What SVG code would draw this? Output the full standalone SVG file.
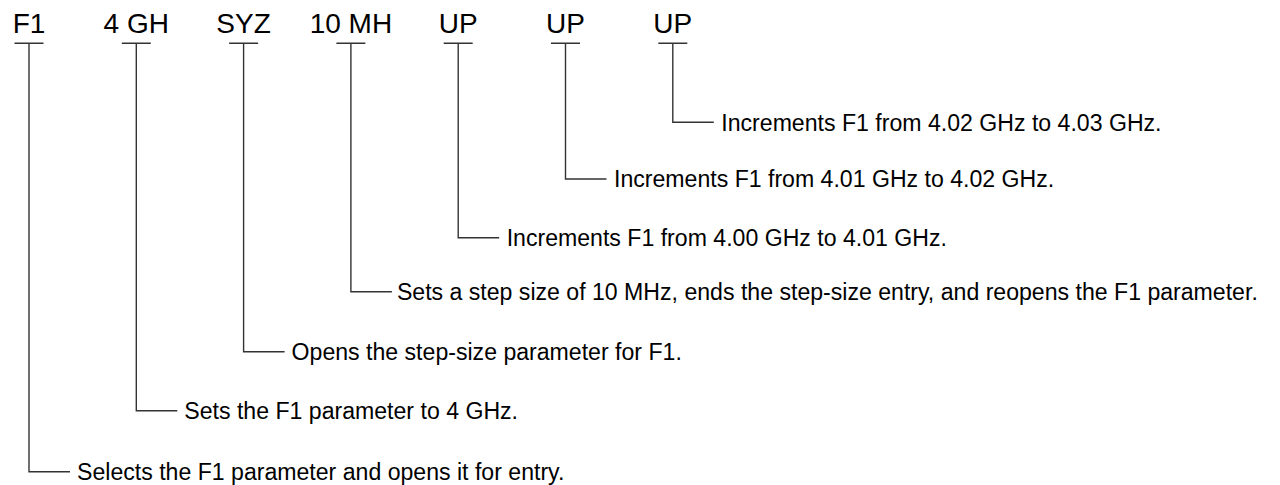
<svg xmlns="http://www.w3.org/2000/svg" width="1280" height="485" viewBox="0 0 1280 485">
<style>
.key{font-family:"Liberation Sans",Arial,sans-serif;font-size:28px;fill:#000;text-anchor:middle}
.desc{font-family:"Liberation Sans",Arial,sans-serif;font-size:23.1px;fill:#000}
.ln{fill:none;stroke:#333;stroke-width:1.4}
</style>
<rect width="1280" height="485" fill="#fff"/>
<g id="keys">
<g id="k1"><text class="key" x="29" y="33">F1</text></g>
<g id="k2"><text class="key" x="136.3" y="33">4 GH</text></g>
<g id="k3"><text class="key" x="243.6" y="33">SYZ</text></g>
<g id="k4"><text class="key" x="350.9" y="33">10 MH</text></g>
<g id="k5"><text class="key" x="458.2" y="33">UP</text></g>
<g id="k6"><text class="key" x="565.5" y="33">UP</text></g>
<g id="k7"><text class="key" x="672.8" y="33">UP</text></g>
</g>
<g id="connectors">
<path class="ln" d="M14.5 43.3H43.5M29 43.3V471.7H70"/>
<path class="ln" d="M121.8 43.3H150.8M136.3 43.3V410.7H177.3"/>
<path class="ln" d="M229.1 43.3H258.1M243.6 43.3V351.7H284.6"/>
<path class="ln" d="M336.4 43.3H365.4M350.9 43.3V291.7H391.9"/>
<path class="ln" d="M443.7 43.3H472.7M458.2 43.3V237.7H499.2"/>
<path class="ln" d="M551 43.3H580M565.5 43.3V179H606.5"/>
<path class="ln" d="M658.3 43.3H687.3M672.8 43.3V122.3H713.8"/>
</g>
<g id="descriptions">
<g id="d7"><text class="desc" x="721.3" y="130.6">Increments F1 from 4.02 GHz to 4.03 GHz.</text></g>
<g id="d6"><text class="desc" x="614" y="187.3">Increments F1 from 4.01 GHz to 4.02 GHz.</text></g>
<g id="d5"><text class="desc" x="506.7" y="246">Increments F1 from 4.00 GHz to 4.01 GHz.</text></g>
<g id="d4"><text class="desc" x="396.9" y="300">Sets a step size of 10 MHz, ends the step-size entry, and reopens the F1 parameter.</text></g>
<g id="d3"><text class="desc" x="291.6" y="360">Opens the step-size parameter for F1.</text></g>
<g id="d2"><text class="desc" x="184.3" y="419">Sets the F1 parameter to 4 GHz.</text></g>
<g id="d1"><text class="desc" x="77" y="480">Selects the F1 parameter and opens it for entry.</text></g>
</g>
</svg>
